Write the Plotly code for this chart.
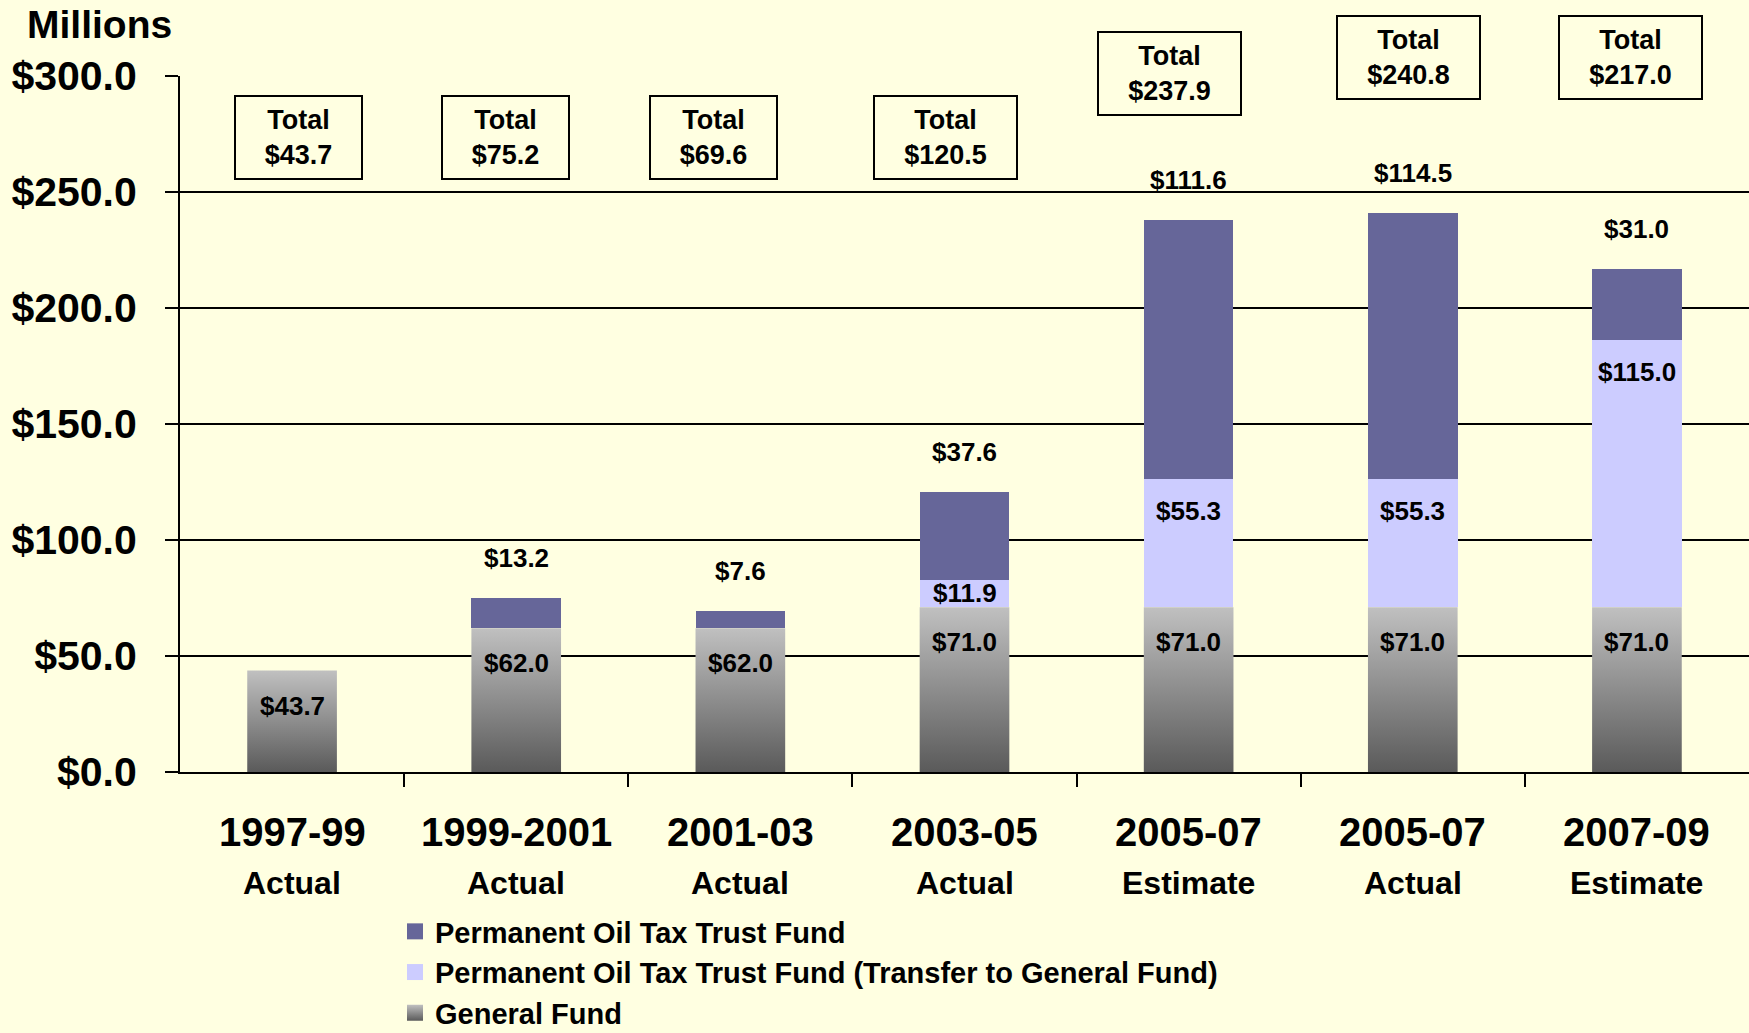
import plotly.graph_objects as go

# ---------------- data ----------------
periods = ["1997-99", "1999-2001", "2001-03", "2003-05", "2005-07", "2005-07", "2007-09"]
statuses = ["Actual", "Actual", "Actual", "Actual", "Estimate", "Actual", "Estimate"]
general_fund = [43.7, 62.0, 62.0, 71.0, 71.0, 71.0, 71.0]
transfer_to_gf = [0.0, 0.0, 0.0, 11.9, 55.3, 55.3, 115.0]
permanent_fund = [0.0, 13.2, 7.6, 37.6, 111.6, 114.5, 31.0]
totals = [43.7, 75.2, 69.6, 120.5, 237.9, 240.8, 217.0]
y_ticks = [0, 50, 100, 150, 200, 250, 300]

series_names = ["Permanent Oil Tax Trust Fund",
                "Permanent Oil Tax Trust Fund (Transfer to General Fund)",
                "General Fund"]

# ---------------- style ----------------
BG = "#FFFFE1"
C_PERM = "#666699"
C_TRANS = "#CCCCFF"
C_GF_TOP = "#C0C0C0"
C_GF_BOT = "#5A5A5A"
FONT = "Liberation Sans, Arial, sans-serif"
BAR_W = 0.4

W, H = 1749, 1033
M_L, M_R, M_T, M_B = 180, 0, 76, 261
plot_h = H - M_T - M_B
px_per_unit = plot_h / 300.0
Y_MAX = 300.0

x = list(range(len(periods)))

fig = go.Figure()

# stacked bars (general fund base drawn transparent; gradient overlay below)
fig.add_trace(go.Bar(x=x, y=general_fund, width=BAR_W, name=series_names[2],
                     marker=dict(color="rgba(0,0,0,0)", line=dict(width=0)),
                     showlegend=False, hoverinfo="skip"))
fig.add_trace(go.Bar(x=x, y=transfer_to_gf, width=BAR_W, name=series_names[1],
                     marker=dict(color=C_TRANS, line=dict(width=0)),
                     showlegend=False))
fig.add_trace(go.Bar(x=x, y=permanent_fund, width=BAR_W, name=series_names[0],
                     marker=dict(color=C_PERM, line=dict(width=0)),
                     showlegend=False))

# gradient fill for general fund bars, computed from data
for i, v in zip(x, general_fund):
    fig.add_trace(go.Scatter(
        x=[i - BAR_W / 2, i + BAR_W / 2, i + BAR_W / 2, i - BAR_W / 2, i - BAR_W / 2],
        y=[0, 0, v, v, 0],
        mode="none", fill="toself",
        fillgradient=dict(type="vertical",
                          colorscale=[[0, C_GF_BOT], [1, C_GF_TOP]]),
        showlegend=False, hoverinfo="skip"))

# legend entries
legend_styles = [
    dict(color=C_PERM),
    dict(color=C_TRANS),
    dict(color=C_GF_TOP, gradient=dict(type="vertical", color=C_GF_BOT)),
]
for k, (nm, mk) in enumerate(zip(series_names, legend_styles)):
    fig.add_trace(go.Scatter(x=[None], y=[None], mode="markers", name=nm,
                             legendgroup=f"g{k}",
                             marker=dict(symbol="square", size=18, line=dict(width=0), **mk)))

annotations = []
LBL = dict(size=26, color="black", family=FONT)

# value labels
for i in x:
    gf = general_fund[i]
    shift = -min(35, gf * px_per_unit / 2)
    annotations.append(dict(x=i, y=gf, xref="x", yref="y", text=f"<b>${gf:.1f}</b>",
                            showarrow=False, yanchor="middle", yshift=shift, font=LBL))
    tr = transfer_to_gf[i]
    if tr > 0:
        top = gf + tr
        shift = -min(32, tr * px_per_unit / 2)
        annotations.append(dict(x=i, y=top, xref="x", yref="y", text=f"<b>${tr:.1f}</b>",
                                showarrow=False, yanchor="middle", yshift=shift, font=LBL))
    pm = permanent_fund[i]
    if pm > 0:
        annotations.append(dict(x=i, y=totals[i], xref="x", yref="y", text=f"<b>${pm:.1f}</b>",
                                showarrow=False, yanchor="middle", yshift=40, font=LBL))

# total boxes (positions in axis units, converted to paper so they may sit above the top)
box_y = [273.4, 273.4, 273.4, 273.4, 301.0, 308.0, 308.0]
box_dx = [6, -11, -27, -19, -19, -4, -6]
for i in x:
    t = totals[i]
    annotations.append(dict(x=i, y=box_y[i] / Y_MAX, xref="x", yref="paper",
                            xanchor="center", yanchor="middle",
                            text=f"<b>Total<br>${t:.1f}</b>",
                            showarrow=False, xshift=box_dx[i],
                            width=117 if t < 100 else 133, height=73,
                            bordercolor="black", borderwidth=2, borderpad=4,
                            bgcolor=BG, align="center",
                            font=dict(size=27, color="black", family=FONT)))

# category labels
for i in x:
    annotations.append(dict(x=i, y=-(832 - (H - M_B)) / plot_h, xref="x", yref="paper",
                            text=f"<b>{periods[i]}</b>", showarrow=False, yanchor="middle",
                            font=dict(size=40, color="black", family=FONT)))
    annotations.append(dict(x=i, y=-(883 - (H - M_B)) / plot_h, xref="x", yref="paper",
                            text=f"<b>{statuses[i]}</b>", showarrow=False, yanchor="middle",
                            font=dict(size=32, color="black", family=FONT)))

# "Millions" title
annotations.append(dict(x=-(M_L - 25) / (W - M_L - M_R), y=1 + (M_T - 24) / plot_h,
                        xref="paper", yref="paper", xanchor="left", yanchor="middle",
                        text="<b>Millions</b>", showarrow=False,
                        font=dict(size=39, color="black", family=FONT)))

fig.update_layout(
    width=W, height=H,
    margin=dict(l=M_L, r=M_R, t=M_T, b=M_B, pad=0, autoexpand=False),
    paper_bgcolor=BG, plot_bgcolor=BG,
    barmode="stack", bargap=0.6,
    font=dict(family=FONT, color="black"),
    annotations=annotations,
    showlegend=True,
    legend=dict(x=(395 - M_L) / (W - M_L - M_R), y=-(906 - (H - M_B)) / plot_h,
                xanchor="left", yanchor="top", orientation="v",
                traceorder="grouped", tracegroupgap=0,
                bgcolor="rgba(0,0,0,0)", borderwidth=0,
                font=dict(size=29, color="black", family=FONT, weight="bold")),
    xaxis=dict(range=[-0.5, len(periods) - 0.5], showgrid=False, zeroline=False,
               showline=True, linecolor="black", linewidth=2,
               tickmode="array", tickvals=[i + 0.5 for i in x[:-1]],
               ticktext=["" for _ in x[:-1]],
               ticks="outside", ticklen=13, tickwidth=2, tickcolor="black",
               fixedrange=True),
    yaxis=dict(range=[0, Y_MAX], tickmode="array", tickvals=y_ticks,
               ticktext=[f"${v:.1f}" for v in y_ticks],
               showgrid=True, gridcolor="black", gridwidth=2,
               zeroline=False, showline=True, linecolor="black", linewidth=2,
               ticks="outside", ticklen=13, tickwidth=2, tickcolor="black",
               ticklabelstandoff=20,
               tickfont=dict(size=41, color="black", family=FONT, weight="bold"),
               fixedrange=True),
)

fig.write_html("out.html", config={"displayModeBar": False},
               post_script="document.body.style.margin='0';document.body.style.overflow='hidden';")
